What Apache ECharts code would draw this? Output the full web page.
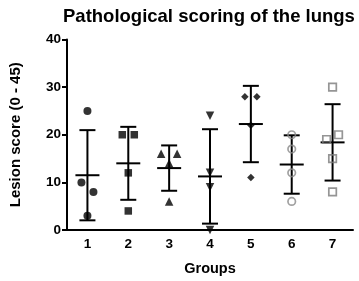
<!DOCTYPE html>
<html>
<head>
<meta charset="utf-8">
<script src="https://cdn.jsdelivr.net/npm/echarts@6/dist/echarts.min.js"></script>
<style>
  html, body { margin: 0; padding: 0; background: #fff; }
  #chart { width: 359px; height: 281px; }
</style>
</head>
<body>
<div id="chart"></div>
<script>
const groups = ["1", "2", "3", "4", "5", "6", "7"];
const yTicks = [0, 10, 20, 30, 40];

// lesion scores per group
const group1 = [25, 10, 8, 3];
const group2 = [20, 20, 12, 4];
const group3 = [16, 16, 14, 6];
const group4 = [24, 12, 9, 0];
const group5 = [28, 28, 22, 11];
const group6 = [20, 17, 12, 6];
const group7 = [30, 20, 19, 15, 8];

const allGroups = [group1, group2, group3, group4, group5, group6, group7];

// horizontal spread of overlapping dots, in pixels
const jitter = [
  [0, -6, 6, 0],
  [-6, 6, 0, 0],
  [-8, 8, 0, 0],
  [0, 0, 0, 0],
  [-6, 6, 0, 0],
  [0, 0, 0, 0],
  [0, 6, -6, 0, 0],
];

const markers = [
  { symbol: "circle", size: 8, color: "#000", hollow: false },
  { symbol: "rect", size: 7.5, color: "#000", hollow: false },
  { symbol: "triangle", size: 8.5, color: "#000", hollow: false },
  { symbol: "path://M0,0 L10,0 L5,9 Z", size: 8.5, color: "#000", hollow: false },
  { symbol: "diamond", size: 7.5, color: "#000", hollow: false },
  { symbol: "circle", size: 7.5, color: "#8a8a8a", hollow: true },
  { symbol: "rect", size: 7.5, color: "#7a7a7a", hollow: true },
];

function meanSd(arr) {
  const m = arr.reduce((a, b) => a + b, 0) / arr.length;
  const v = arr.reduce((a, b) => a + (b - m) * (b - m), 0) / (arr.length - 1);
  return [m, Math.sqrt(v)];
}

const statsData = allGroups.map((arr, i) => {
  const [m, sd] = meanSd(arr);
  return [i, m, m - sd, m + sd];
});

const font = "Liberation Sans, Arial, sans-serif";

const scatterSeries = allGroups.map((arr, gi) => {
  const mk = markers[gi];
  return {
    type: "scatter",
    z: 3,
    symbol: mk.symbol,
    symbolSize: mk.size,
    itemStyle: mk.hollow
      ? { color: "transparent", borderColor: mk.color, borderWidth: 1.7 }
      : { color: mk.color },
    data: arr.map((v, j) => ({
      value: [gi, v],
      symbolOffset: [jitter[gi][j], 0],
    })),
  };
});

const chart = echarts.init(document.getElementById("chart"));
chart.setOption({
  animation: false,
  title: {
    text: "Pathological scoring of the lungs",
    left: 58,
    top: 2,
    textStyle: { fontFamily: font, fontSize: 18.5, fontWeight: "bold", color: "#000" },
  },
  grid: { left: 63, right: 6, top: 39.5, bottom: 51 },
  xAxis: {
    type: "category",
    data: groups,
    boundaryGap: true,
    name: "Groups",
    nameLocation: "middle",
    nameGap: 31,
    nameTextStyle: { fontFamily: font, fontSize: 14.5, fontWeight: "bold", color: "#000" },
    axisLine: { lineStyle: { color: "#000", width: 2 } },
    axisTick: { alignWithLabel: true, length: 5, lineStyle: { color: "#000", width: 2 } },
    axisLabel: { fontFamily: font, fontSize: 13.5, fontWeight: "bold", color: "#000", margin: 7 },
    splitLine: { show: false },
  },
  yAxis: {
    type: "value",
    min: yTicks[0],
    max: yTicks[yTicks.length - 1],
    interval: 10,
    name: "Lesion score (0 - 45)",
    nameLocation: "middle",
    nameGap: 44,
    nameTextStyle: { fontFamily: font, fontSize: 15, fontWeight: "bold", color: "#000" },
    axisLine: { show: true, lineStyle: { color: "#000", width: 2 } },
    axisTick: { show: true, length: 5, lineStyle: { color: "#000", width: 2 } },
    axisLabel: { fontFamily: font, fontSize: 13.5, fontWeight: "bold", color: "#000", margin: 6 },
    splitLine: { show: false },
  },
  series: [
    {
      type: "custom",
      z: 2,
      data: statsData,
      encode: { x: 0, y: [1, 2, 3] },
      renderItem: function (params, api) {
        const c = api.coord([api.value(0), api.value(1)]);
        const lo = api.coord([api.value(0), api.value(2)]);
        const hi = api.coord([api.value(0), api.value(3)]);
        const style = { stroke: "#000", lineWidth: 2 };
        const line = (x1, y1, x2, y2) => ({
          type: "line",
          shape: { x1, y1, x2, y2 },
          style,
        });
        return {
          type: "group",
          children: [
            line(c[0], lo[1], c[0], hi[1]),
            line(c[0] - 8, lo[1], c[0] + 8, lo[1]),
            line(c[0] - 8, hi[1], c[0] + 8, hi[1]),
            line(c[0] - 12, c[1], c[0] + 12, c[1]),
          ],
        };
      },
    },
    ...scatterSeries,
  ],
});
</script>
</body>
</html>
